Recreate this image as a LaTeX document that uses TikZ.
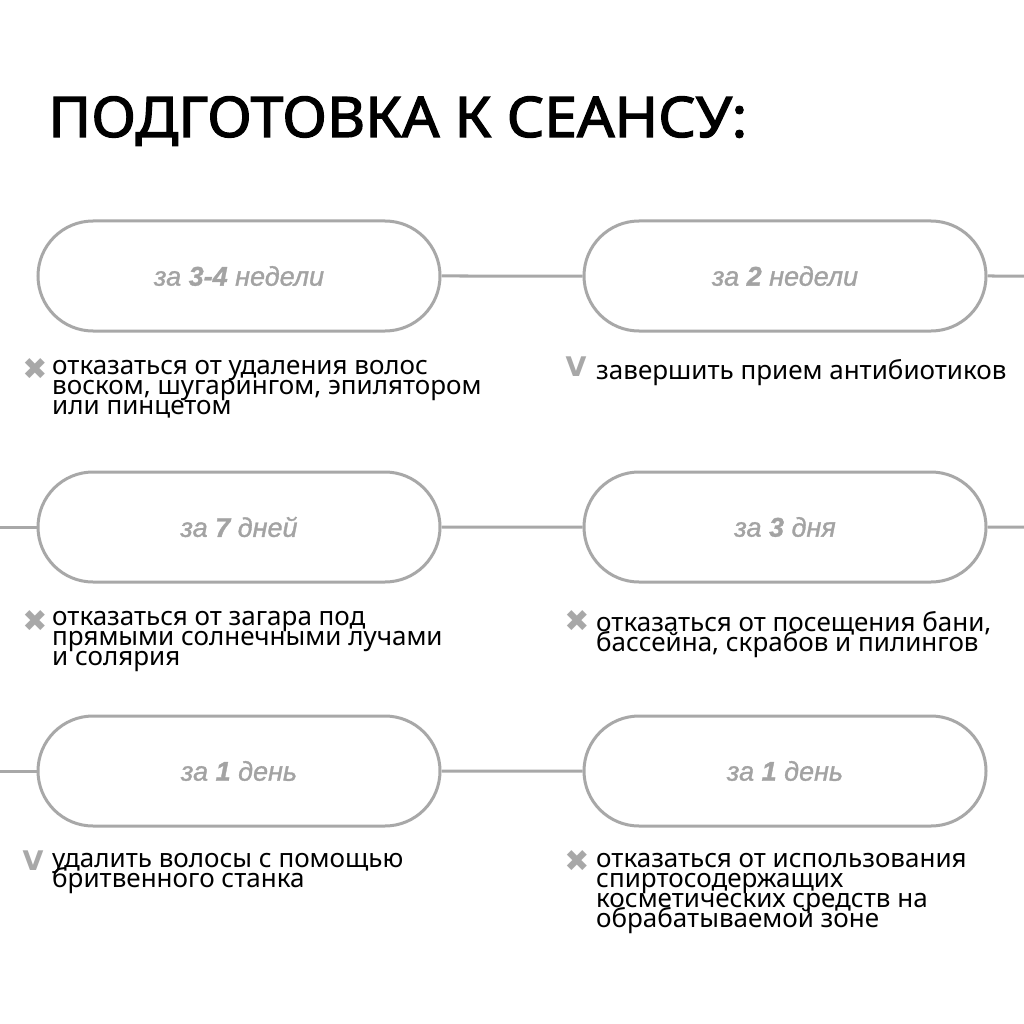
\documentclass[tikz,border=0pt]{standalone}
\usepackage{fontspec}
\setmainfont{Noto Sans}
\newfontfamily\titlefont{Noto Sans}[FakeBold=2.2]
\newfontfamily\pillfont{Liberation Sans}[FakeBold=1.2]
\newfontfamily\markfont{DejaVu Sans}
\usetikzlibrary{shapes.misc}
\setlength{\lineskiplimit}{-100pt}

\definecolor{linegray}{HTML}{A8A8A8}
\definecolor{labelgray}{HTML}{A3A3A3}

\begin{document}
\begin{tikzpicture}[
  x=1pt,y=-1pt,
  every node/.style={inner sep=0pt},
  pill node/.style={rounded rectangle,draw=linegray,line width=3pt,minimum width=402pt,minimum height=110pt,
    font=\pillfont\itshape\fontsize{27}{30}\selectfont,text=labelgray},
  note node/.style={anchor=north west,align=left,font=\fontsize{26}{20}\selectfont,text=black},
  mark node/.style={font=\markfont\bfseries\fontsize{30}{30}\selectfont,text=linegray},
  link/.style={draw=linegray,line width=3pt},
]
\useasboundingbox[fill=white] (0,0) rectangle (1024,1024);

\node[anchor=base west,font=\titlefont\fontsize{56}{60}\selectfont] (title) at (48,137) {\scalebox{1.05}[1]{ПОДГОТОВКА К СЕАНСУ:}};

% timeline
\node[pill node] (w34) at (239,276) {за \textbf{3-4} недели};
\node[pill node] (w2) at (785,276) {за \textbf{2} недели};
\node[pill node] (d7) at (239,527) {за \textbf{7} дней};
\node[pill node] (d3) at (785,527) {за \textbf{3} дня};
\node[pill node] (d1a) at (239,771) {за \textbf{1} день};
\node[pill node] (d1b) at (785,771) {за \textbf{1} день};

\coordinate (r1) at (1024,276);
\coordinate (l2) at (0,527);
\coordinate (r2) at (1024,527);
\coordinate (l3) at (0,771);

\draw[link] (w34) -- (w2);
\draw[link] (w2) -- (r1);
\draw[link] (l2) -- (d7);
\draw[link] (d7) -- (d3);
\draw[link] (d3) -- (r2);
\draw[link] (l3) -- (d1a);
\draw[link] (d1a) -- (d1b);

% notes
\node[mark node] (m1) at (35,369) {✖};
\node[note node] (t1) at (52,360) {отказаться от удаления волос\\воском, шугарингом, эпилятором\\или пинцетом};
\node[mark node,font=\markfont\bfseries\fontsize{27}{27}\selectfont] (m2) at (576,367) {V};
\node[note node] (t2) at (596,359) {завершить прием антибиотиков};
\node[mark node] (m3) at (35,621) {✖};
\node[note node] (t3) at (52,611) {отказаться от загара под\\прямыми солнечными лучами\\и солярия};
\node[mark node] (m4) at (577,621) {✖};
\node[note node] (t4) at (596,611) {отказаться от посещения бани,\\бассейна, скрабов и пилингов};
\node[mark node,font=\markfont\bfseries\fontsize{27}{27}\selectfont] (m5) at (33,861) {V};
\node[note node] (t5) at (52,853) {удалить волосы с помощью\\бритвенного станка};
\node[mark node] (m6) at (577,861) {✖};
\node[note node] (t6) at (596,853) {отказаться от использования\\спиртосодержащих\\косметических средств на\\обрабатываемой зоне};
\end{tikzpicture}
\end{document}
